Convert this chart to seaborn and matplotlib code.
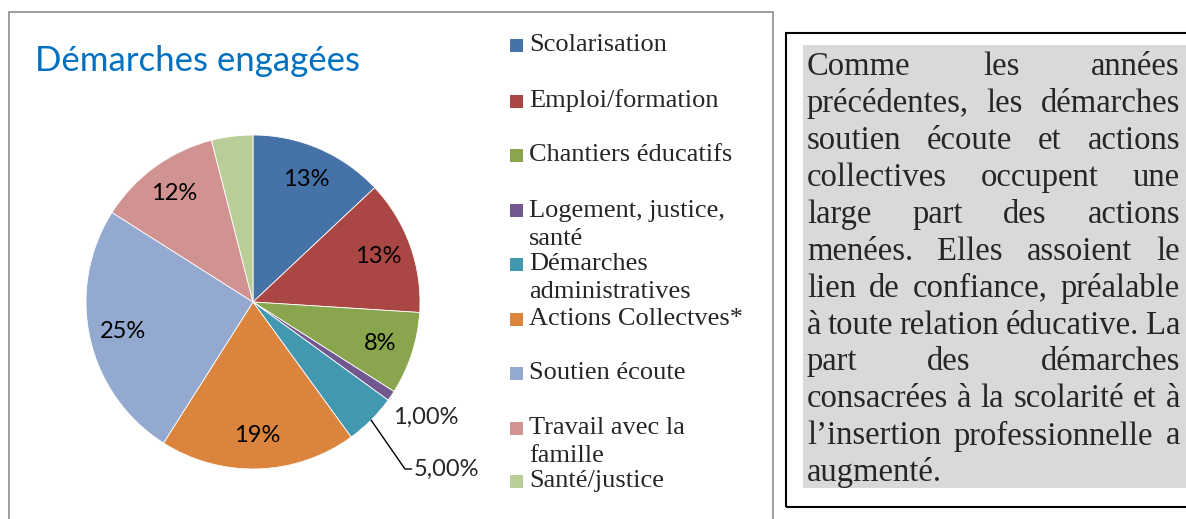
import matplotlib
matplotlib.use("Agg")
import matplotlib.pyplot as plt
import matplotlib.patches as mpatches
import numpy as np
import seaborn as sns

# data
categories = ["Scolarisation", "Emploi/formation", "Chantiers éducatifs",
              "Logement, justice,\nsanté", "Démarches\nadministratives",
              "Actions Collectves*", "Soutien écoute",
              "Travail avec la\nfamille", "Santé/justice"]
shares = [13, 13, 8, 1, 5, 19, 25, 12, 4]
slice_labels = ["13%", "13%", "8%", "1,00%", "5,00%", "19%", "25%", "12%", ""]
colors = ["#4572A7", "#AA4643", "#89A54E", "#71588F", "#4198AF",
          "#DB843D", "#93A9CF", "#D19392", "#B9CD96"]

comment_lines = [
    "Comme les années",
    "précédentes, les démarches",
    "soutien écoute et actions",
    "collectives occupent une",
    "large part des actions",
    "menées. Elles assoient le",
    "lien de confiance, préalable",
    "à toute relation éducative. La",
    "part des démarches",
    "consacrées à la scolarité et à",
    "l’insertion professionnelle a",
    "augmenté.",
]

sns.set_theme(style="white")
plt.rcParams['font.family'] = ['Lato', 'DejaVu Sans']
SERIF = ['Liberation Serif', 'DejaVu Serif']
palette = sns.color_palette(colors)

W, H = 1186, 519
fig = plt.figure(figsize=(W / 100, H / 100), dpi=100)


def fx(x):
    return x / W


def fy(y):
    return 1 - y / H


# frames
fig.add_artist(mpatches.Rectangle((fx(9), fy(530)), fx(773 - 9), (530 - 12) / H,
                                  transform=fig.transFigure, fill=False,
                                  edgecolor="#8c8c8c", lw=1.2))
fig.add_artist(mpatches.Rectangle((fx(786), fy(507)), fx(1200 - 786), (507 - 33) / H,
                                  transform=fig.transFigure, fill=False,
                                  edgecolor="black", lw=1.5))
fig.add_artist(mpatches.Rectangle((fx(803), fy(488)), fx(1186 - 803), (488 - 45) / H,
                                  transform=fig.transFigure, facecolor="#D9D9D9",
                                  edgecolor="none"))

# pie
cx, cy, r = 253, 302, 167
ax = fig.add_axes([fx(cx - r), fy(cy + r), 2 * r / W, 2 * r / H])
wedges, _ = ax.pie(shares, colors=palette, startangle=90, counterclock=False,
                   wedgeprops=dict(linewidth=0.6, edgecolor="white"))
ax.set_xlim(-1, 1)
ax.set_ylim(-1, 1)
ax.set_aspect("equal")
ax.axis("off")

for w, lab in zip(wedges, slice_labels):
    if lab in ("", "1,00%", "5,00%"):
        continue
    th = np.deg2rad((w.theta1 + w.theta2) / 2)
    ax.text(0.8 * np.cos(th), 0.8 * np.sin(th), lab, ha="center", va="center",
            fontsize=17, color="black")

# outside labels for the small slices
ax.text(0.84, -0.69, slice_labels[3], ha="left", va="center", fontsize=17,
        clip_on=False)
w5 = wedges[4]
th5 = np.deg2rad((w5.theta1 + w5.theta2) / 2)
ax.plot([np.cos(th5), 0.91, 0.95], [np.sin(th5), -1.0, -1.0], color="black",
        lw=1, clip_on=False)
ax.text(0.96, -1.0, slice_labels[4], ha="left", va="center", fontsize=17,
        clip_on=False)

# title
fig.text(fx(35), fy(61), "Démarches engagées", color="#0070C0", fontsize=25,
         ha="left", va="center")

# legend drawn by hand (Excel-like uneven wrapping)
leg_y = [45, 101, 155, 211, 264, 319, 373, 428, 481]
for lab, col, y in zip(categories, palette, leg_y):
    fig.add_artist(mpatches.Rectangle((fx(510), fy(y + 6.5)), 13 / W, 13 / H,
                                      transform=fig.transFigure, facecolor=col,
                                      edgecolor="none"))
    for k, part in enumerate(lab.split("\n")):
        fig.text(fx(529), fy(y + k * 28), part, fontsize=19,
                 family=SERIF, ha="left", va="center")

# justified comment text
left, right = 807, 1180
y0, step = 67, 36.9
renderer = fig.canvas.get_renderer()
for i, line in enumerate(comment_lines):
    y = y0 + i * step
    words = line.split(" ")
    texts = [fig.text(0, fy(y), wd, fontsize=23.5, family=SERIF,
                      ha="left", va="center") for wd in words]
    widths = [t.get_window_extent(renderer).width for t in texts]
    if i == len(comment_lines) - 1 or len(words) == 1:
        gap = 7
    else:
        gap = (right - left - sum(widths)) / (len(words) - 1)
    x = left
    for t, wdt in zip(texts, widths):
        t.set_x(fx(x))
        x += wdt + gap

fig.savefig("out.png", dpi=100)
